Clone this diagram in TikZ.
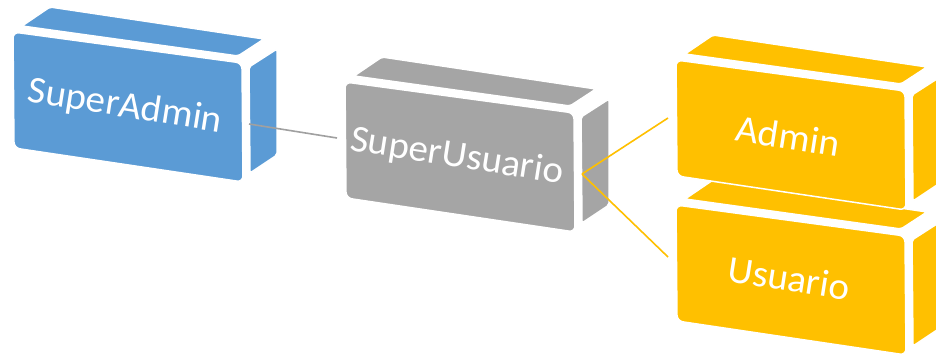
\documentclass[tikz,border=0pt]{standalone}
\usepackage{fontspec}
\setmainfont{Carlito}
\definecolor{cblue}{HTML}{5B9BD5}
\definecolor{cgrey}{HTML}{A5A5A5}
\definecolor{cgold}{HTML}{FFC000}
\definecolor{lgrey}{HTML}{A0A0A0}
\tikzset{
  pics/box3d/.style={code={
    \fill[#1, draw=white, line width=1.5pt, rounded corners=2pt]
      (9,-6) -- (37,-25) -- (251,7) -- (225,24) -- cycle;
    \fill[#1, draw=white, line width=1.5pt, rounded corners=2pt]
      (236,35) -- (264,17) -- (264,123) -- (237,141) -- cycle;
    \fill[#1, draw=white, line width=1.5pt, rounded corners=6pt]
      (0,0) -- (229,31) -- (230,150) -- (1,116) -- cycle;
  }},
  lbl/.style={text=white, font=\fontsize{38}{38}\selectfont, rotate=-9, xscale=1.03, inner sep=0pt},
  link/.style={line width=1.6pt}
}
\begin{document}
\begin{tikzpicture}[x=1pt,y=-1pt]
\useasboundingbox (0,0) rectangle (936,355);
\clip (0,0) rectangle (936,355);
\fill[white] (0,0) rectangle (936,355);
% boxes
\pic at (13,32) {box3d=cblue};
\pic at (345,82) {box3d=cgrey};
\pic at (676,205) {box3d=cgold};
\pic at (676,60) {box3d=cgold};
% connector ends
\coordinate (saR) at (249,124);
\coordinate (suL) at (337,138);
\coordinate (suR) at (582,174);
\coordinate (adL) at (668,118);
\coordinate (usL) at (668,257);
% labels
\node[lbl] (sa) at (125,107) {SuperAdmin};
\node[lbl] (su) at (457,157) {SuperUsuario};
\node[lbl] (ad) at (788,136) {Admin};
\node[lbl] (us) at (789,278) {Usuario};
% connectors
\draw[link, lgrey] (saR) -- (suL);
\draw[link, cgold] (suR) -- (adL);
\draw[link, cgold] (suR) -- (usL);
\end{tikzpicture}
\end{document}
